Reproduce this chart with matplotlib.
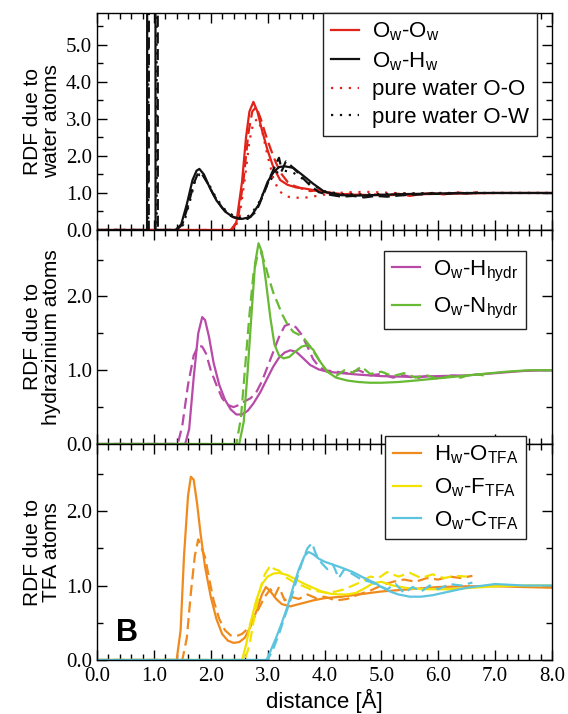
import matplotlib
matplotlib.use("Agg")
import matplotlib.pyplot as plt
from matplotlib.ticker import MultipleLocator, FormatStrFormatter

plt.rcParams['font.family'] = ['Liberation Sans', 'DejaVu Sans']
plt.rcParams['mathtext.fontset'] = 'custom'
plt.rcParams['mathtext.rm'] = 'Liberation Sans'
plt.rcParams['mathtext.it'] = 'Liberation Sans'

# ---------------- data ----------------
# Top panel: water atoms
owow_x = [0, 2.35, 2.45, 2.55, 2.62, 2.68, 2.75, 2.82, 2.9, 3.0, 3.1, 3.22, 3.35, 3.5, 3.65, 3.8, 4.0, 4.3, 4.6, 5.0, 5.4, 5.8, 6.2, 6.6, 7.0, 8.0]
owow_y = [0, 0, 0.2, 1.3, 2.5, 3.2, 3.46, 3.2, 2.7, 2.15, 1.7, 1.35, 1.22, 1.15, 1.12, 1.08, 1.03, 0.97, 0.95, 0.94, 0.95, 0.97, 0.98, 0.99, 1.0, 1.0]
owow_d_x = [0, 2.38, 2.48, 2.58, 2.66, 2.73, 2.8, 2.88, 2.96, 3.05, 3.15, 3.25, 3.35, 3.45, 3.6, 3.75, 3.9, 4.1, 4.3, 4.5, 4.7, 4.9, 5.1, 5.3, 5.5, 5.7, 5.9, 6.1, 6.3, 6.5, 6.7]
owow_d_y = [0, 0, 0.3, 1.4, 2.6, 3.2, 3.32, 3.0, 2.6, 2.2, 1.8, 1.5, 1.3, 1.2, 1.12, 1.05, 1.08, 0.98, 0.95, 0.99, 0.93, 0.96, 0.94, 0.98, 0.92, 0.97, 1.0, 0.96, 1.02, 0.99, 1.02]
pwoo_x = [0, 2.4, 2.5, 2.6, 2.68, 2.75, 2.82, 2.9, 3.0, 3.1, 3.2, 3.35, 3.5, 3.7, 3.9, 4.1, 4.4, 4.8, 5.2, 5.6, 6.0, 7.0, 8.0]
pwoo_y = [0, 0, 0.3, 1.4, 2.4, 2.9, 3.0, 2.7, 2.0, 1.4, 1.05, 0.9, 0.87, 0.88, 0.93, 0.98, 1.02, 1.03, 1.0, 0.98, 0.99, 1.0, 1.0]

owhw_x = [0, 0.88, 0.9, 1.01, 1.03, 1.38, 1.48, 1.58, 1.68, 1.75, 1.8, 1.88, 1.98, 2.1, 2.25, 2.4, 2.55, 2.7, 2.85, 3.0, 3.1, 3.2, 3.3, 3.45, 3.6, 3.8, 4.0, 4.3, 4.6, 5.0, 5.4, 5.8, 6.2, 6.6, 7.0, 8.0]
owhw_y = [0, 0, 60, 60, 0, 0, 0.15, 0.7, 1.35, 1.6, 1.65, 1.5, 1.15, 0.8, 0.5, 0.34, 0.3, 0.35, 0.7, 1.3, 1.55, 1.7, 1.72, 1.68, 1.5, 1.25, 1.03, 0.94, 0.93, 0.95, 0.97, 0.98, 0.99, 1.0, 1.0, 1.0]
owhw_d_x = [0, 0.91, 0.93, 1.05, 1.07, 1.4, 1.5, 1.6, 1.7, 1.78, 1.85, 1.95, 2.05, 2.2, 2.35, 2.5, 2.65, 2.8, 2.95, 3.05, 3.15, 3.2, 3.25, 3.32, 3.4, 3.5, 3.62, 3.75, 3.9, 4.1, 4.3, 4.5, 4.7, 4.9, 5.1, 5.3, 5.5, 5.7, 5.9, 6.1, 6.3, 6.5, 6.7]
owhw_d_y = [0, 0, 60, 60, 0, 0, 0.15, 0.65, 1.25, 1.55, 1.5, 1.25, 0.95, 0.6, 0.38, 0.3, 0.3, 0.5, 1.05, 1.45, 1.8, 1.95, 1.6, 1.85, 1.75, 1.6, 1.4, 1.2, 1.02, 0.95, 0.9, 0.92, 0.88, 0.92, 0.9, 0.93, 0.95, 0.96, 0.98, 0.97, 1.0, 0.99, 1.0]
pwow_x = [0, 0.9, 0.92, 1.03, 1.05, 1.42, 1.52, 1.62, 1.72, 1.8, 1.88, 1.98, 2.1, 2.25, 2.4, 2.55, 2.7, 2.85, 3.0, 3.15, 3.3, 3.45, 3.6, 3.8, 4.0, 4.3, 4.7, 5.2, 6.0, 7.0, 8.0]
pwow_y = [0, 0, 60, 60, 0, 0, 0.15, 0.7, 1.3, 1.5, 1.45, 1.2, 0.85, 0.55, 0.38, 0.32, 0.4, 0.75, 1.25, 1.55, 1.6, 1.55, 1.4, 1.2, 1.05, 0.97, 0.96, 0.98, 1.0, 1.0, 1.0]

# Middle panel: hydrazinium atoms
owh_x = [0, 1.55, 1.62, 1.7, 1.78, 1.85, 1.9, 1.97, 2.05, 2.15, 2.25, 2.35, 2.45, 2.55, 2.65, 2.75, 2.87, 3.0, 3.1, 3.2, 3.3, 3.4, 3.5, 3.6, 3.75, 3.9, 4.05, 4.3, 4.6, 5.0, 5.5, 6.0, 6.5, 7.0, 7.5, 8.0]
owh_y = [0, 0, 0.2, 0.9, 1.5, 1.72, 1.68, 1.45, 1.1, 0.8, 0.6, 0.47, 0.4, 0.4, 0.45, 0.55, 0.7, 0.9, 1.05, 1.17, 1.24, 1.27, 1.25, 1.18, 1.07, 1.01, 0.98, 0.96, 0.94, 0.92, 0.91, 0.92, 0.93, 0.96, 0.99, 1.0]
owh_d_x = [0, 1.42, 1.5, 1.6, 1.7, 1.78, 1.85, 1.92, 2.0, 2.1, 2.2, 2.3, 2.4, 2.5, 2.6, 2.7, 2.8, 2.9, 3.0, 3.1, 3.2, 3.3, 3.4, 3.5, 3.6, 3.7, 3.8, 3.9, 4.0, 4.2, 4.4, 4.6, 4.8, 5.0, 5.2, 5.4, 5.6, 5.8, 6.0, 6.2, 6.4]
owh_d_y = [0, 0, 0.25, 0.8, 1.2, 1.33, 1.32, 1.22, 1.0, 0.8, 0.62, 0.53, 0.5, 0.53, 0.58, 0.62, 0.7, 0.85, 1.05, 1.25, 1.45, 1.6, 1.63, 1.58, 1.48, 1.32, 1.15, 1.05, 1.0, 0.98, 0.96, 1.0, 0.93, 0.95, 0.9, 0.93, 0.89, 0.92, 0.9, 0.93, 0.92]
own_x = [0, 2.5, 2.58, 2.65, 2.72, 2.78, 2.84, 2.9, 2.97, 3.05, 3.12, 3.2, 3.28, 3.38, 3.5, 3.6, 3.7, 3.8, 3.92, 4.05, 4.2, 4.4, 4.6, 4.8, 5.0, 5.3, 5.6, 6.0, 6.4, 6.8, 7.2, 7.6, 8.0]
own_y = [0, 0, 0.3, 1.0, 1.8, 2.45, 2.72, 2.6, 2.2, 1.7, 1.35, 1.2, 1.16, 1.18, 1.26, 1.32, 1.34, 1.28, 1.12, 0.98, 0.9, 0.86, 0.84, 0.83, 0.83, 0.84, 0.86, 0.89, 0.92, 0.95, 0.98, 1.0, 1.0]
own_d_x = [0, 2.45, 2.53, 2.6, 2.68, 2.75, 2.82, 2.88, 2.95, 3.02, 3.1, 3.18, 3.26, 3.35, 3.45, 3.55, 3.65, 3.75, 3.85, 3.95, 4.05, 4.2, 4.35, 4.5, 4.65, 4.8, 5.0, 5.2, 5.4, 5.6, 5.8, 6.0, 6.2, 6.4, 6.6, 6.8]
own_d_y = [0, 0, 0.35, 1.0, 1.75, 2.3, 2.55, 2.6, 2.45, 2.25, 2.05, 1.9, 1.75, 1.62, 1.52, 1.48, 1.42, 1.32, 1.2, 1.08, 0.98, 0.92, 1.0, 0.97, 1.05, 0.95, 0.98, 0.92, 0.96, 0.9, 0.93, 0.88, 0.92, 0.9, 0.95, 0.93]

# Bottom panel: TFA atoms
hwo_x = [0, 1.4, 1.47, 1.53, 1.6, 1.65, 1.7, 1.76, 1.82, 1.9, 2.0, 2.1, 2.2, 2.3, 2.4, 2.5, 2.6, 2.7, 2.8, 2.9, 2.97, 3.05, 3.15, 3.25, 3.4, 3.6, 3.8, 4.0, 4.3, 4.6, 5.0, 5.5, 6.0, 6.5, 7.0, 7.5, 8.0]
hwo_y = [0, 0, 0.4, 1.4, 2.2, 2.46, 2.42, 2.1, 1.7, 1.25, 0.85, 0.55, 0.35, 0.26, 0.23, 0.24, 0.3, 0.45, 0.65, 0.88, 0.98, 0.92, 0.82, 0.75, 0.72, 0.76, 0.8, 0.83, 0.85, 0.88, 0.92, 0.95, 0.98, 0.99, 0.99, 0.98, 0.97]
hwo_d_x = [0, 1.5, 1.58, 1.65, 1.72, 1.78, 1.84, 1.9, 1.97, 2.05, 2.15, 2.25, 2.35, 2.45, 2.55, 2.65, 2.75, 2.85, 2.95, 3.05, 3.12, 3.2, 3.3, 3.4, 3.55, 3.7, 3.85, 4.0, 4.2, 4.4, 4.6, 4.8, 5.0, 5.2, 5.4, 5.6, 5.8, 6.0, 6.2, 6.4, 6.6]
hwo_d_y = [0, 0, 0.3, 0.9, 1.4, 1.62, 1.5, 1.38, 1.1, 0.8, 0.55, 0.4, 0.33, 0.32, 0.35, 0.42, 0.55, 0.7, 0.85, 0.95, 0.85, 0.98, 0.8, 0.85, 0.82, 0.88, 0.83, 0.85, 0.8, 0.82, 0.88, 0.93, 1.0, 1.05, 1.08, 1.05, 1.1, 1.08, 1.12, 1.1, 1.13]
owf_x = [0, 2.55, 2.62, 2.7, 2.8, 2.9, 3.0, 3.1, 3.2, 3.35, 3.5, 3.65, 3.8, 3.95, 4.1, 4.25, 4.4, 4.55, 4.7, 4.85, 5.0, 5.2, 5.5, 5.8, 6.2, 6.6, 7.0, 7.5, 8.0]
owf_y = [0, 0, 0.2, 0.5, 0.8, 1.02, 1.12, 1.16, 1.17, 1.14, 1.08, 1.02, 0.97, 0.92, 0.89, 0.88, 0.88, 0.9, 0.96, 1.03, 1.05, 1.0, 0.96, 0.95, 0.95, 0.97, 0.99, 1.0, 1.0]
owf_d_x = [0, 2.6, 2.68, 2.76, 2.85, 2.95, 3.05, 3.12, 3.2, 3.3, 3.45, 3.6, 3.75, 3.9, 4.05, 4.2, 4.35, 4.5, 4.65, 4.8, 4.95, 5.1, 5.3, 5.5, 5.7, 5.9, 6.1, 6.3, 6.5]
owf_d_y = [0, 0, 0.2, 0.55, 0.9, 1.15, 1.27, 1.22, 1.2, 1.12, 1.05, 1.0, 0.95, 0.92, 0.9, 0.92, 0.95, 1.0, 1.05, 1.12, 1.1, 1.18, 1.12, 1.17, 1.1, 1.15, 1.1, 1.13, 1.12]
owc_x = [0, 2.98, 3.05, 3.15, 3.25, 3.35, 3.45, 3.55, 3.65, 3.72, 3.8, 3.9, 4.0, 4.15, 4.3, 4.5, 4.7, 4.9, 5.0, 5.15, 5.3, 5.5, 5.7, 5.9, 6.2, 6.5, 6.8, 7.0, 7.5, 8.0]
owc_y = [0, 0, 0.12, 0.3, 0.5, 0.72, 0.98, 1.22, 1.4, 1.45, 1.42, 1.36, 1.32, 1.28, 1.24, 1.18, 1.1, 1.03, 0.98, 0.92, 0.88, 0.85, 0.85, 0.87, 0.92, 0.97, 1.0, 1.02, 1.0, 1.0]
owc_d_x = [0, 3.0, 3.1, 3.2, 3.3, 3.4, 3.5, 3.6, 3.7, 3.78, 3.85, 3.95, 4.05, 4.15, 4.25, 4.35, 4.5, 4.65, 4.8, 4.95, 5.1, 5.25, 5.4, 5.55, 5.7, 5.85, 6.0, 6.2, 6.4, 6.6]
owc_d_y = [0, 0, 0.15, 0.35, 0.58, 0.8, 1.05, 1.3, 1.5, 1.57, 1.42, 1.3, 1.22, 1.28, 1.1, 1.22, 1.15, 1.08, 1.05, 1.0, 0.95, 1.02, 0.9, 0.98, 0.92, 1.0, 0.95, 1.02, 1.0, 1.04]

labels_top = [r'O$_\mathrm{w}$-O$_\mathrm{w}$', r'O$_\mathrm{w}$-H$_\mathrm{w}$', 'pure water O-O', 'pure water O-W']
labels_mid = [r'O$_\mathrm{w}$-H$_\mathrm{hydr}$', r'O$_\mathrm{w}$-N$_\mathrm{hydr}$']
labels_bot = [r'H$_\mathrm{w}$-O$_\mathrm{TFA}$', r'O$_\mathrm{w}$-F$_\mathrm{TFA}$', r'O$_\mathrm{w}$-C$_\mathrm{TFA}$']
ylabels = ['RDF due to\nwater atoms', 'RDF due to\nhydrazinium atoms', 'RDF due to\nTFA atoms']

# ---------------- styling ----------------
RED = '#e2231a'
BLACK = '#111111'
PURPLE = '#b84aa8'
GREEN = '#68b934'
ORANGE = '#f08a1d'
YELLOW = '#f2e200'
CYAN = '#5cc4de'
LW = 1.6
DASH = (0, (5, 2.5))
DOT = (0, (1, 3))

fig = plt.figure(figsize=(5.68, 7.14), dpi=100)
L, R = 97 / 568, 552 / 568
def frac(px):
    return 1 - px / 714
ax1 = fig.add_axes([L, frac(230), R - L, frac(13) - frac(230)])
ax2 = fig.add_axes([L, frac(444), R - L, frac(230) - frac(444)])
ax3 = fig.add_axes([L, frac(660), R - L, frac(444) - frac(660)])

serif = 'Liberation Serif'
for ax in (ax1, ax2, ax3):
    ax.set_xlim(0, 8)
    ax.xaxis.set_major_locator(MultipleLocator(1))
    ax.xaxis.set_minor_locator(MultipleLocator(0.2))
    ax.yaxis.set_major_locator(MultipleLocator(1))
    ax.yaxis.set_minor_locator(MultipleLocator(0.5))
    ax.yaxis.set_major_formatter(FormatStrFormatter('%.1f'))
    ax.xaxis.set_major_formatter(FormatStrFormatter('%.1f'))
    ax.tick_params(which='both', direction='in', top=True, right=True, width=1.0)
    ax.tick_params(which='major', length=7)
    ax.tick_params(which='minor', length=4.5)
    ax.tick_params(axis='x', pad=5)
    ax.tick_params(labelsize=15)
    for sp in ax.spines.values():
        sp.set_linewidth(1.0)

ax1.set_ylim(0, 5.86)
ax2.set_ylim(0, 2.9)
ax3.set_ylim(0, 2.9)
ax1.tick_params(labelbottom=False)
ax2.tick_params(labelbottom=False)
for ax in (ax1, ax2, ax3):
    for lab in ax.get_xticklabels() + ax.get_yticklabels():
        lab.set_fontfamily(serif)

# top panel
h1, = ax1.plot(owow_x, owow_y, color=RED, lw=LW)
ax1.plot(owow_d_x, owow_d_y, color=RED, lw=LW, ls=DASH)
h3, = ax1.plot(pwoo_x, pwoo_y, color=RED, lw=LW, ls=DOT)
h2, = ax1.plot(owhw_x, owhw_y, color=BLACK, lw=LW)
ax1.plot(owhw_d_x, owhw_d_y, color=BLACK, lw=LW, ls=DASH)
h4, = ax1.plot(pwow_x, pwow_y, color=BLACK, lw=LW, ls=DOT)

# middle panel
m1, = ax2.plot(owh_x, owh_y, color=PURPLE, lw=LW)
ax2.plot(owh_d_x, owh_d_y, color=PURPLE, lw=LW, ls=DASH)
m2, = ax2.plot(own_x, own_y, color=GREEN, lw=LW)
ax2.plot(own_d_x, own_d_y, color=GREEN, lw=LW, ls=DASH)

# bottom panel
b1, = ax3.plot(hwo_x, hwo_y, color=ORANGE, lw=LW)
ax3.plot(hwo_d_x, hwo_d_y, color=ORANGE, lw=LW, ls=DASH)
b2, = ax3.plot(owf_x, owf_y, color=YELLOW, lw=LW)
ax3.plot(owf_d_x, owf_d_y, color=YELLOW, lw=LW, ls=DASH)
b3, = ax3.plot(owc_x, owc_y, color=CYAN, lw=LW)
ax3.plot(owc_d_x, owc_d_y, color=CYAN, lw=LW, ls=DASH)

leg_kw = dict(frameon=True, fancybox=False, framealpha=1, edgecolor='#222222',
              fontsize=16, handlelength=1.25, handletextpad=0.6, borderaxespad=0,
              borderpad=0.35)
lg1 = ax1.legend([h1, h2, h3, h4], labels_top, loc='upper right', bbox_to_anchor=(0.967, 1.0),
                 labelspacing=0.3, **leg_kw)
lg2 = ax2.legend([m1, m2], labels_mid, loc='upper right', bbox_to_anchor=(0.943, 0.902),
                 labelspacing=0.55, **leg_kw)
lg3 = ax3.legend([b1, b2, b3], labels_bot, loc='upper right', bbox_to_anchor=(0.943, 1.037),
                 labelspacing=0.45, **leg_kw)
for lg in (lg1, lg2, lg3):
    lg.get_frame().set_linewidth(1.0)
ax3.set_zorder(3)

for ax, yl in zip((ax1, ax2, ax3), ylabels):
    ax.set_ylabel(yl, fontsize=15, linespacing=0.95)
    ax.yaxis.set_label_coords(-0.08, 0.5)

ax3.set_xlabel('distance [Å]', fontsize=16, labelpad=2)
ax3.text(0.53, 0.36, 'B', fontsize=22, fontweight='bold', ha='center', va='center')

fig.savefig('out.png', dpi=100)
